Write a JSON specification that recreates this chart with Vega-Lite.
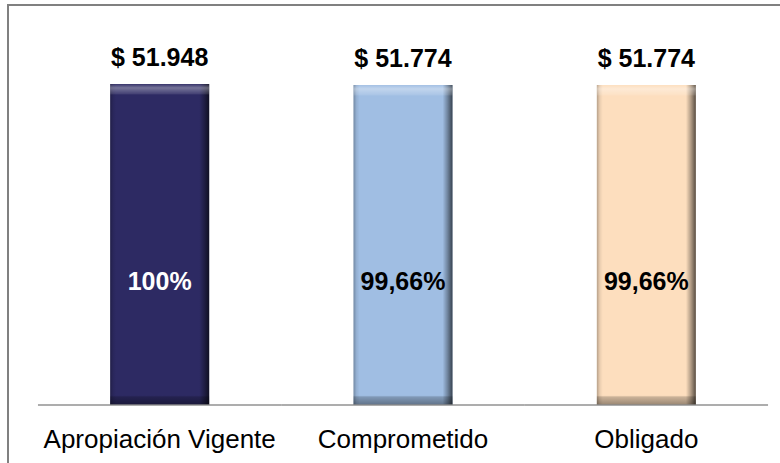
{
  "$schema": "https://vega.github.io/schema/vega-lite/v6.json",
  "width": 790,
  "height": 465,
  "autosize": {"type": "none"},
  "padding": {"left": 8, "top": 5, "right": 0, "bottom": 0},
  "background": "white",
  "config": {"view": {"stroke": "#808080", "strokeWidth": 2}, "font": "Liberation Sans"},
  "data": {"values": [
    {"cat": "Apropiación Vigente", "value": 51948, "label": "$ 51.948", "pct": "100%"},
    {"cat": "Comprometido", "value": 51774, "label": "$ 51.774", "pct": "99,66%"},
    {"cat": "Obligado", "value": 51774, "label": "$ 51.774", "pct": "99,66%"}
  ]},
  "encoding": {
    "x": {
      "field": "cat", "type": "nominal", "sort": null,
      "scale": {"paddingInner": 0, "paddingOuter": 0.1233},
      "axis": {"orient": "bottom", "offset": -65, "domain": false, "ticks": false, "tickSize": 0, "labelPadding": 42, "labelBaseline": "alphabetic", "labelFontSize": 26, "labelColor": "black", "labelFont": "Liberation Sans", "labelAngle": 0, "labelLimit": 0, "labelOverlap": false, "title": null}
    }
  },
  "layer": [
    {
      "mark": {"type": "bar", "size": 99},
      "encoding": {
        "y": {"field": "value", "type": "quantitative", "scale": {"domain": [-10519, 64733], "nice": false, "zero": false}, "axis": null},
        "y2": {"datum": 0},
        "color": {"field": "cat", "type": "nominal", "sort": null, "scale": {"range": ["#2D2A63", "#A0BEE3", "#FDDEBE"]}, "legend": null}
      }
    },
    {
      "mark": {"type": "bar", "size": 99, "fill": {"gradient": "linear", "x1": 0, "y1": 0, "x2": 1, "y2": 0, "stops": [
        {"offset": 0, "color": "rgba(0,0,0,0.28)"},
        {"offset": 0.03, "color": "rgba(0,0,0,0.08)"},
        {"offset": 0.06, "color": "rgba(0,0,0,0)"},
        {"offset": 0.9, "color": "rgba(0,0,0,0)"},
        {"offset": 0.95, "color": "rgba(0,0,0,0.3)"},
        {"offset": 1, "color": "rgba(0,0,0,0.65)"}
      ]}},
      "encoding": {
        "y": {"field": "value", "type": "quantitative"},
        "y2": {"datum": 0}
      }
    },
    {
      "mark": {"type": "bar", "size": 99, "fill": {"gradient": "linear", "x1": 0, "y1": 0, "x2": 0, "y2": 1, "stops": [
        {"offset": 0, "color": "rgba(255,255,255,0.05)"},
        {"offset": 0.012, "color": "rgba(255,255,255,0.35)"},
        {"offset": 0.03, "color": "rgba(255,255,255,0.12)"},
        {"offset": 0.034, "color": "rgba(255,255,255,0)"},
        {"offset": 0.97, "color": "rgba(0,0,0,0)"},
        {"offset": 0.975, "color": "rgba(0,0,0,0.2)"},
        {"offset": 1, "color": "rgba(0,0,0,0.4)"}
      ]}},
      "encoding": {
        "y": {"field": "value", "type": "quantitative"},
        "y2": {"datum": 0}
      }
    },
    {
      "mark": {"type": "tick", "size": 243.4, "thickness": 2, "color": "#8a8a8a", "orient": "horizontal"},
      "encoding": {"y": {"datum": 0}}
    },
    {
      "mark": {"type": "text", "fontSize": 25, "fontWeight": "bold", "baseline": "alphabetic", "dy": -18, "color": "black"},
      "encoding": {
        "y": {"field": "value", "type": "quantitative"},
        "text": {"field": "label"}
      }
    },
    {
      "mark": {"type": "text", "fontSize": 25, "fontWeight": "bold", "baseline": "alphabetic"},
      "encoding": {
        "y": {"datum": 18600},
        "text": {"field": "pct"},
        "color": {"condition": {"test": "datum.cat === 'Apropiación Vigente'", "value": "white"}, "value": "black"}
      }
    }
  ]
}
